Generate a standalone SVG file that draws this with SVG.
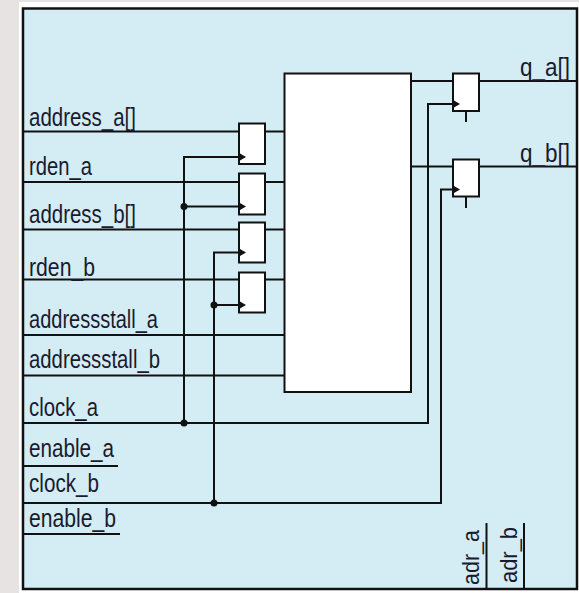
<svg xmlns="http://www.w3.org/2000/svg" width="579" height="593" viewBox="0 0 579 593">
  <style>
    .wire { fill: none; stroke: #111; stroke-width: 2; }
    .blk { fill: #fff; stroke: #111; stroke-width: 2; }
    .lbl { font-family: "Liberation Sans", "DejaVu Sans", sans-serif; font-size: 26px; fill: #1a1a2e; }
    .rot { font-size: 24px; }
    .dot { fill: #111; }
    .clk { fill: #111; }
  </style>
  <defs>
    <polygon id="clkmark" points="0,-3.5 6,0 0,3.5" class="clk"/>
  </defs>

  <rect x="0" y="0" width="579" height="593" fill="#e7e3e3"/>
  <rect x="19" y="2" width="560" height="591" fill="#ffffff"/>

  <g id="frame">
    <rect x="23" y="8.5" width="554" height="580.5" fill="#d4ecf3" stroke="#111" stroke-width="2.5"/>
  </g>

  <g id="connectors">
    <path class="wire" d="M23 131.5 H239 M265 131.5 H284.5"/>
    <path class="wire" d="M23 182 H239 M265 182 H284.5"/>
    <path class="wire" d="M23 229.5 H239 M265 229.5 H284.5"/>
    <path class="wire" d="M23 279.5 H239 M265 279.5 H284.5"/>
    <path class="wire" d="M23 335 H284.5"/>
    <path class="wire" d="M23 375.5 H284.5"/>
    <path class="wire" d="M23 423 H428 V104 H453"/>
    <path class="wire" d="M23 503 H441 V189.5 H453"/>
    <path class="wire" d="M23 466 H118"/>
    <path class="wire" d="M23 534 H120"/>
    <path class="wire" d="M184 423 V157 H239 M184 206.5 H239"/>
    <path class="wire" d="M214 503 V252.5 H239 M214 305 H239"/>
    <path class="wire" d="M411 81 H453 M479 81 H577"/>
    <path class="wire" d="M411 166.5 H453 M479 166.5 H577"/>
    <path class="wire" d="M466 111 V122 M466 197 V208"/>
    <path class="wire" d="M486.5 523 V589 M524 523 V589"/>
    <circle class="dot" cx="184" cy="423" r="3.5"/>
    <circle class="dot" cx="184" cy="206.5" r="3.5"/>
    <circle class="dot" cx="214" cy="503" r="3.5"/>
    <circle class="dot" cx="214" cy="305" r="3.5"/>
  </g>

  <g id="ram">
    <rect class="blk" x="284.5" y="73.5" width="126.5" height="318.5"/>
  </g>

  <g id="reg-address-a">
    <rect class="blk" x="239" y="123.5" width="26" height="40.5"/>
    <use href="#clkmark" x="240" y="157"/>
  </g>
  <g id="reg-rden-a">
    <rect class="blk" x="239" y="173.5" width="26" height="41"/>
    <use href="#clkmark" x="240" y="206.5"/>
  </g>
  <g id="reg-address-b">
    <rect class="blk" x="239" y="222.5" width="26" height="40"/>
    <use href="#clkmark" x="240" y="252.5"/>
  </g>
  <g id="reg-rden-b">
    <rect class="blk" x="239" y="272.5" width="26" height="40"/>
    <use href="#clkmark" x="240" y="305"/>
  </g>
  <g id="reg-q-a">
    <rect class="blk" x="453" y="73.5" width="26" height="37.5"/>
    <use href="#clkmark" x="454" y="104"/>
  </g>
  <g id="reg-q-b">
    <rect class="blk" x="453" y="159.5" width="26" height="37"/>
    <use href="#clkmark" x="454" y="189.5"/>
  </g>

  <g id="labels">
    <text class="lbl" x="29" y="126" textLength="107" lengthAdjust="spacingAndGlyphs">address_a[]</text>
    <text class="lbl" x="29" y="175" textLength="63" lengthAdjust="spacingAndGlyphs">rden_a</text>
    <text class="lbl" x="29" y="223" textLength="107" lengthAdjust="spacingAndGlyphs">address_b[]</text>
    <text class="lbl" x="29" y="276" textLength="66" lengthAdjust="spacingAndGlyphs">rden_b</text>
    <text class="lbl" x="29" y="328" textLength="129" lengthAdjust="spacingAndGlyphs">addressstall_a</text>
    <text class="lbl" x="29" y="368" textLength="131" lengthAdjust="spacingAndGlyphs">addressstall_b</text>
    <text class="lbl" x="29" y="416" textLength="69" lengthAdjust="spacingAndGlyphs">clock_a</text>
    <text class="lbl" x="29" y="457" textLength="85" lengthAdjust="spacingAndGlyphs">enable_a</text>
    <text class="lbl" x="29" y="492" textLength="70" lengthAdjust="spacingAndGlyphs">clock_b</text>
    <text class="lbl" x="29" y="527" textLength="87" lengthAdjust="spacingAndGlyphs">enable_b</text>
    <text class="lbl" x="520" y="76" textLength="50" lengthAdjust="spacingAndGlyphs">q_a[]</text>
    <text class="lbl" x="520" y="162" textLength="50" lengthAdjust="spacingAndGlyphs">q_b[]</text>
    <text class="lbl rot" transform="translate(479 585) rotate(-90)" textLength="55" lengthAdjust="spacingAndGlyphs">adr_a</text>
    <text class="lbl rot" transform="translate(517 583) rotate(-90)" textLength="56" lengthAdjust="spacingAndGlyphs">adr_b</text>
  </g>
</svg>
